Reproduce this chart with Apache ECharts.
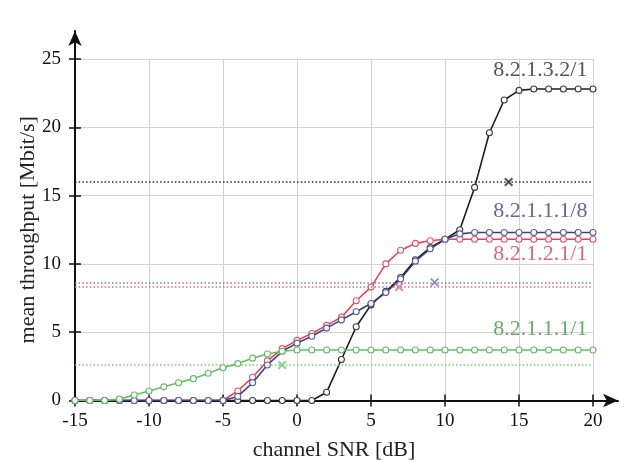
<!DOCTYPE html>
<html>
<head>
<meta charset="utf-8">
<script src="https://cdn.jsdelivr.net/npm/echarts@6/dist/echarts.min.js"></script>
<style>
  html, body { margin: 0; padding: 0; background: #fff; }
  #chart { width: 631px; height: 462px; }
</style>
</head>
<body>
<div id="chart"></div>
<script>
// Channel SNR grid [dB]
const snr = [-15, -14, -13, -12, -11, -10, -9, -8, -7, -6, -5, -4, -3, -2, -1, 0,
             1, 2, 3, 4, 5, 6, 7, 8, 9, 10, 11, 12, 13, 14, 15, 16, 17, 18, 19, 20];

// Mean throughput [Mbit/s] per configuration
const rateMcs_8_2_1_3_2_1 = [0, 0, 0, 0, 0, 0, 0, 0, 0, 0, 0, 0, 0, 0, 0, 0,
  0, 0.6, 3.0, 5.4, 7.0, 8.0, 9.0, 10.3, 11.2, 11.8, 12.5, 15.6, 19.6, 22.0, 22.7, 22.8, 22.8, 22.8, 22.8, 22.8];
const rateMcs_8_2_1_2_1_1 = [0, 0, 0, 0, 0, 0, 0, 0, 0, 0, 0, 0.7, 1.7, 2.9, 3.8, 4.4,
  4.9, 5.5, 6.1, 7.3, 8.3, 10.0, 11.0, 11.5, 11.7, 11.8, 11.8, 11.8, 11.8, 11.8, 11.8, 11.8, 11.8, 11.8, 11.8, 11.8];
const rateMcs_8_2_1_1_1_8 = [0, 0, 0, 0, 0, 0, 0, 0, 0, 0, 0, 0.3, 1.3, 2.6, 3.6, 4.2,
  4.7, 5.3, 5.9, 6.5, 7.1, 7.9, 8.9, 10.2, 11.1, 11.8, 12.2, 12.3, 12.3, 12.3, 12.3, 12.3, 12.3, 12.3, 12.3, 12.3];
const rateMcs_8_2_1_1_1_1 = [0, 0, 0, 0.1, 0.4, 0.7, 1.0, 1.3, 1.6, 2.0, 2.4, 2.7, 3.1, 3.4, 3.6, 3.7,
  3.7, 3.7, 3.7, 3.7, 3.7, 3.7, 3.7, 3.7, 3.7, 3.7, 3.7, 3.7, 3.7, 3.7, 3.7, 3.7, 3.7, 3.7, 3.7, 3.7];

// Configuration names, in drawing order
const configNames = ['8.2.1.3.2/1', '8.2.1.2.1/1', '8.2.1.1.1/8', '8.2.1.1.1/1'];
const configRates = [rateMcs_8_2_1_3_2_1, rateMcs_8_2_1_2_1_1, rateMcs_8_2_1_1_1_8, rateMcs_8_2_1_1_1_1];

// Required throughput (dotted level) and the SNR where it is reached (cross)
const targetRate = [16.0, 8.3, 8.65, 2.6];
const targetSnr = [14.3, 6.9, 9.3, -1.0];

// Axis ticks
const xTicks = [-15, -10, -5, 0, 5, 10, 15, 20];
const yTicks = [0, 5, 10, 15, 20, 25];

const lineColors = ['#1c1c1c', '#e2425c', '#3c3f7c', '#62c062'];
const markerColors = ['#3a3a3a', '#e0566c', '#5a5f9c', '#68b868'];
const levelColors = ['#2a2a2a', '#e06a80', '#7a7ab8', '#74c874'];
const textColors = ['#555555', '#d8687a', '#6268a2', '#6aa86c'];
// label placement relative to the last marker
const labelPos = [[-2, -15], [-2, 18], [-2, -17.5], [-2, -17]];

const serifFont = '"Liberation Serif", "DejaVu Serif", serif';
const crossPath = 'path://M1.6,0 L5,3.4 L8.4,0 L10,1.6 L6.6,5 L10,8.4 L8.4,10 L5,6.6 L1.6,10 L0,8.4 L3.4,5 L0,1.6 Z';

const chart = echarts.init(document.getElementById('chart'), null, { renderer: 'canvas' });

const lineSeries = configNames.map((name, i) => {
  const rates = configRates[i];
  const data = snr.map((x, k) => {
    if (k === snr.length - 1) {
      return {
        value: [x, rates[k]],
        label: {
          show: true,
          formatter: name,
          position: labelPos[i],
          align: 'right',
          verticalAlign: 'middle',
          color: textColors[i],
          fontFamily: serifFont,
          fontSize: 22
        }
      };
    }
    return [x, rates[k]];
  });
  return {
    name: name,
    type: 'line',
    xAxisIndex: 0,
    yAxisIndex: 0,
    data: data,
    symbol: 'circle',
    symbolSize: 6,
    showSymbol: true,
    lineStyle: { color: lineColors[i], width: 1.6 },
    itemStyle: { color: '#ffffff', borderColor: markerColors[i], borderWidth: 1.1 },
    emphasis: { disabled: true },
    animation: false,
    z: 3 + i,
    markLine: {
      silent: true,
      symbol: 'none',
      label: { show: false },
      lineStyle: { color: levelColors[i], type: [1.5, 2.2], width: 1.5 },
      data: [{ yAxis: targetRate[i] }],
      animation: false
    }
  };
});

const crossSeries = configNames.map((name, i) => ({
  name: name + ' target',
  type: 'scatter',
  xAxisIndex: 0,
  yAxisIndex: 0,
  data: [[targetSnr[i], targetRate[i]]],
  symbol: crossPath,
  symbolSize: 9,
  itemStyle: { color: levelColors[i] },
  emphasis: { disabled: true },
  animation: false,
  z: 8
}));

const tickLabelStyle = { color: '#111', fontFamily: serifFont, fontSize: 19 };
const tickLine = { color: '#111', width: 1.5 };

chart.setOption({
  backgroundColor: '#ffffff',
  animation: false,
  grid: [
    { left: 75, right: 38, top: 59, bottom: 61.5, containLabel: false, outerBoundsMode: 'none' },
    { left: 75, right: 13, top: 31, bottom: 61.5, containLabel: false, outerBoundsMode: 'none' }
  ],
  xAxis: [
    {
      gridIndex: 0, type: 'value', position: 'bottom', min: -15, max: 20, interval: 5,
      name: 'channel SNR [dB]', nameLocation: 'middle', nameGap: 39, nameMoveOverlap: false,
      nameTextStyle: { color: '#222', fontFamily: serifFont, fontSize: 22, verticalAlign: 'top' },
      axisLine: { show: false, onZero: false },
      axisTick: { show: true, inside: false, length: 6, lineStyle: tickLine },
      axisLabel: { ...tickLabelStyle, margin: 11, formatter: v => xTicks.includes(v) ? String(v) : '' },
      splitLine: { show: true, lineStyle: { color: '#d2d2d2', width: 1 } }
    },
    {
      gridIndex: 0, type: 'value', position: 'bottom', min: -15, max: 20, interval: 5,
      axisLine: { show: false, onZero: false },
      axisTick: { show: true, inside: true, length: 6, lineStyle: tickLine },
      axisLabel: { show: false },
      splitLine: { show: false }
    },
    {
      gridIndex: 1, type: 'value', position: 'bottom', min: 0, max: 1,
      axisLine: { show: true, onZero: false, symbol: ['none', 'arrow'], symbolSize: [10, 15], lineStyle: { color: '#111', width: 2 } },
      axisTick: { show: false }, axisLabel: { show: false }, splitLine: { show: false }
    }
  ],
  yAxis: [
    {
      gridIndex: 0, type: 'value', position: 'left', min: 0, max: 25, interval: 5,
      name: 'mean throughput [Mbit/s]', nameLocation: 'middle', nameGap: 36, nameMoveOverlap: false,
      nameTextStyle: { color: '#222', fontFamily: serifFont, fontSize: 22, verticalAlign: 'bottom' },
      axisLine: { show: false, onZero: false },
      axisTick: { show: true, inside: false, length: 6, lineStyle: tickLine },
      axisLabel: { ...tickLabelStyle, margin: 14, formatter: v => yTicks.includes(v) ? String(v) : '' },
      splitLine: { show: true, lineStyle: { color: '#d2d2d2', width: 1 } }
    },
    {
      gridIndex: 0, type: 'value', position: 'left', min: 0, max: 25, interval: 5,
      axisLine: { show: false, onZero: false },
      axisTick: { show: true, inside: true, length: 6, lineStyle: tickLine },
      axisLabel: { show: false },
      splitLine: { show: false }
    },
    {
      gridIndex: 1, type: 'value', position: 'left', min: 0, max: 1,
      axisLine: { show: true, onZero: false, symbol: ['none', 'arrow'], symbolSize: [10, 15], lineStyle: { color: '#111', width: 2 } },
      axisTick: { show: false }, axisLabel: { show: false }, splitLine: { show: false }
    }
  ],
  series: [...lineSeries, ...crossSeries]
});
</script>
</body>
</html>
